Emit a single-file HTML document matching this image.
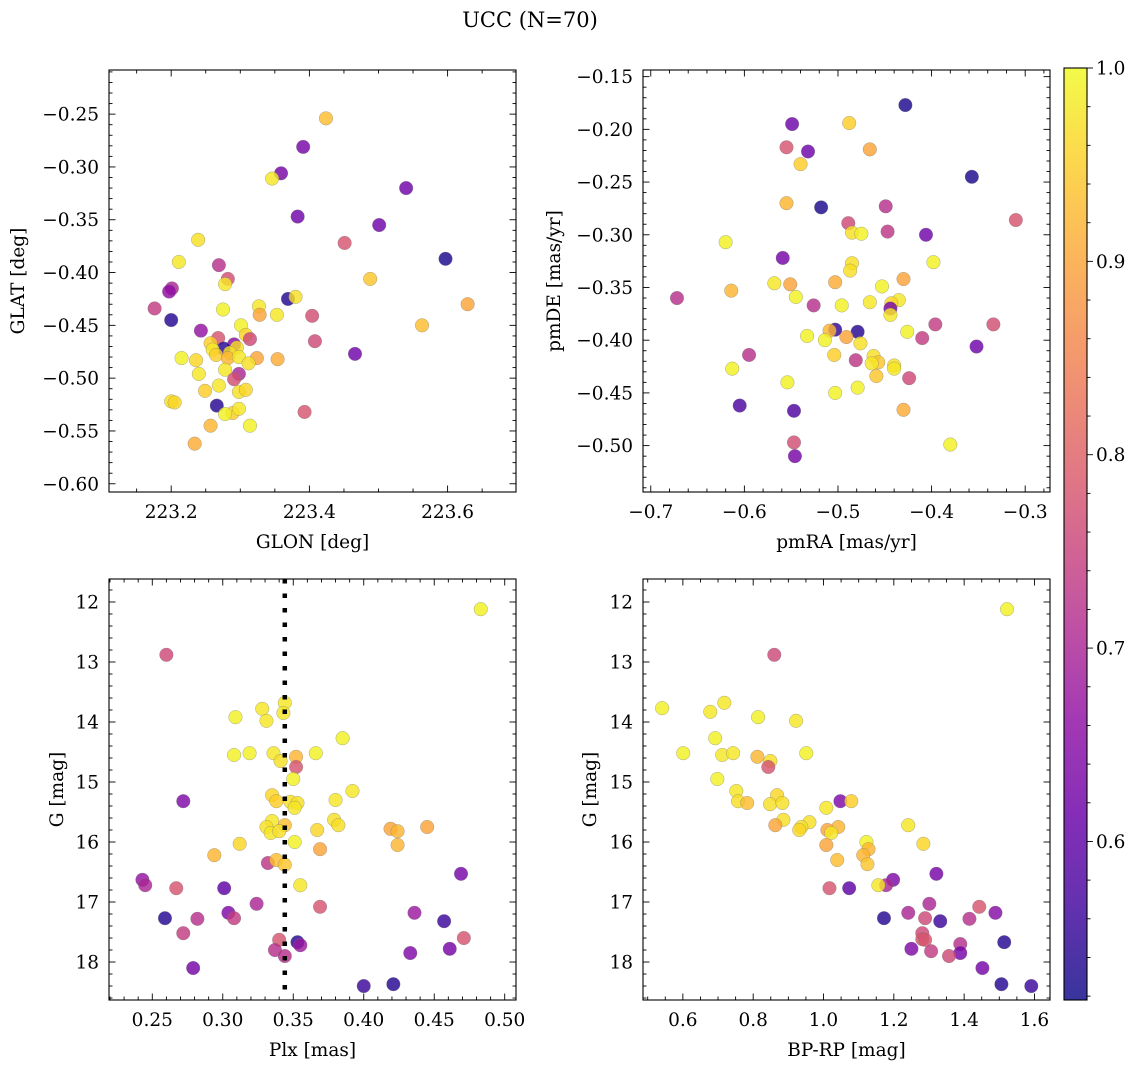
<!DOCTYPE html>
<html><head><meta charset="utf-8"><style>
body{margin:0;background:#fff;}
svg{display:block;font-family:"DejaVu Serif","Liberation Serif",serif;}
</style></head><body>
<svg id="fig" width="1136" height="1068" viewBox="0 0 1136 1068" xmlns="http://www.w3.org/2000/svg">
<text x="530" y="27" font-size="21" text-anchor="middle">UCC (N=70)</text>
</svg>
<script>
// ---- data (estimated from reference) ----
const glon = [223.424,223.391,223.359,223.346,223.540,223.383,223.501,223.451,223.239,223.211,223.269,223.597,223.282,223.278,223.488,223.201,223.197,223.629,223.369,223.380,223.176,223.275,223.327,223.328,223.353,223.404,223.200,223.563,223.243,223.301,223.308,223.314,223.268,223.408,223.257,223.291,223.276,223.260,223.295,223.466,223.215,223.236,223.265,223.285,223.282,223.298,223.324,223.312,223.354,223.278,223.298,223.291,223.240,223.269,223.249,223.298,223.308,223.200,223.205,223.266,223.289,223.278,223.298,223.393,223.257,223.314,223.234];
const glat = [-0.254,-0.281,-0.306,-0.311,-0.320,-0.347,-0.355,-0.372,-0.369,-0.390,-0.393,-0.387,-0.406,-0.411,-0.406,-0.415,-0.418,-0.430,-0.425,-0.423,-0.434,-0.435,-0.432,-0.440,-0.440,-0.441,-0.445,-0.450,-0.455,-0.450,-0.459,-0.463,-0.462,-0.465,-0.467,-0.468,-0.472,-0.473,-0.471,-0.477,-0.481,-0.483,-0.478,-0.476,-0.481,-0.480,-0.481,-0.486,-0.482,-0.492,-0.496,-0.501,-0.496,-0.507,-0.512,-0.513,-0.511,-0.522,-0.523,-0.526,-0.533,-0.534,-0.529,-0.532,-0.545,-0.545,-0.562];
const cTL = [0.93,0.63,0.63,0.98,0.62,0.62,0.62,0.78,0.97,0.98,0.72,0.53,0.77,0.98,0.94,0.70,0.66,0.90,0.54,0.97,0.74,0.99,0.98,0.90,0.98,0.77,0.54,0.93,0.67,0.99,0.96,0.76,0.78,0.76,0.95,0.65,0.54,0.98,0.97,0.62,0.99,0.96,0.95,0.97,0.92,0.98,0.90,0.97,0.91,0.98,0.70,0.77,0.98,0.98,0.95,0.97,0.96,0.97,0.96,0.54,0.95,0.99,0.98,0.78,0.92,0.99,0.91];

const pmra = [-0.428,-0.549,-0.488,-0.555,-0.532,-0.466,-0.540,-0.357,-0.555,-0.518,-0.449,-0.310,-0.489,-0.485,-0.475,-0.447,-0.406,-0.620,-0.559,-0.398,-0.485,-0.487,-0.568,-0.551,-0.503,-0.430,-0.453,-0.614,-0.672,-0.545,-0.435,-0.466,-0.443,-0.444,-0.526,-0.496,-0.444,-0.396,-0.334,-0.503,-0.509,-0.479,-0.426,-0.533,-0.514,-0.491,-0.476,-0.410,-0.352,-0.595,-0.504,-0.481,-0.462,-0.457,-0.464,-0.440,-0.440,-0.613,-0.459,-0.424,-0.554,-0.479,-0.503,-0.605,-0.547,-0.430,-0.380,-0.547,-0.546];
const pmde = [-0.177,-0.195,-0.194,-0.217,-0.221,-0.219,-0.233,-0.245,-0.270,-0.274,-0.273,-0.286,-0.289,-0.298,-0.299,-0.297,-0.300,-0.307,-0.322,-0.326,-0.327,-0.334,-0.346,-0.347,-0.345,-0.342,-0.349,-0.353,-0.360,-0.359,-0.362,-0.364,-0.365,-0.370,-0.367,-0.367,-0.376,-0.385,-0.385,-0.390,-0.391,-0.392,-0.392,-0.396,-0.400,-0.397,-0.403,-0.398,-0.406,-0.414,-0.414,-0.419,-0.415,-0.421,-0.422,-0.424,-0.427,-0.427,-0.434,-0.436,-0.440,-0.445,-0.450,-0.462,-0.467,-0.466,-0.499,-0.497,-0.510];
const cTR = [0.53,0.62,0.95,0.78,0.62,0.90,0.95,0.53,0.92,0.53,0.72,0.78,0.76,0.97,0.99,0.73,0.62,0.99,0.63,0.99,0.97,0.97,0.98,0.90,0.91,0.90,0.99,0.92,0.72,0.99,0.98,0.98,0.96,0.63,0.72,0.99,0.98,0.74,0.77,0.55,0.92,0.54,0.99,0.99,0.99,0.90,0.97,0.74,0.62,0.72,0.95,0.73,0.97,0.94,0.98,0.97,0.98,0.99,0.94,0.76,0.99,0.99,0.99,0.58,0.58,0.91,0.99,0.77,0.63];

const plx = [0.483,0.260,0.344,0.328,0.343,0.309,0.331,0.385,0.308,0.319,0.336,0.341,0.352,0.366,0.352,0.350,0.392,0.272,0.335,0.338,0.348,0.353,0.351,0.380,0.379,0.382,0.335,0.331,0.344,0.334,0.340,0.367,0.419,0.424,0.445,0.424,0.351,0.369,0.312,0.294,0.332,0.338,0.344,0.469,0.243,0.245,0.267,0.301,0.355,0.324,0.369,0.259,0.282,0.304,0.308,0.436,0.457,0.272,0.471,0.340,0.353,0.355,0.337,0.344,0.433,0.461,0.279,0.400,0.421];
const gPlx = [12.12,12.88,13.68,13.78,13.85,13.92,13.98,14.27,14.55,14.52,14.52,14.65,14.58,14.52,14.75,14.95,15.15,15.32,15.22,15.32,15.33,15.35,15.43,15.30,15.63,15.72,15.65,15.75,15.72,15.85,15.82,15.80,15.78,15.82,15.75,16.05,16.00,16.12,16.03,16.22,16.35,16.30,16.38,16.53,16.63,16.72,16.77,16.77,16.72,17.03,17.08,17.27,17.28,17.18,17.27,17.18,17.32,17.52,17.60,17.63,17.67,17.72,17.80,17.90,17.85,17.78,18.10,18.40,18.37];
const cBL = [0.99,0.76,0.98,0.98,0.98,0.99,0.98,0.99,0.99,0.99,0.98,0.97,0.92,0.99,0.78,0.99,0.98,0.64,0.96,0.95,0.97,0.97,0.98,0.98,0.97,0.97,0.98,0.97,0.93,0.98,0.97,0.96,0.90,0.92,0.90,0.92,0.99,0.90,0.96,0.92,0.73,0.93,0.94,0.63,0.67,0.70,0.78,0.60,0.98,0.70,0.78,0.54,0.72,0.64,0.74,0.68,0.56,0.74,0.78,0.78,0.54,0.68,0.72,0.72,0.64,0.63,0.63,0.56,0.54];
const plxMedian = [0.344];

const bprp = [1.522,0.860,0.541,0.718,0.678,0.814,0.922,0.692,0.601,0.712,0.743,0.951,0.812,0.849,0.843,0.698,0.752,1.048,0.868,1.079,0.757,0.783,0.848,0.883,1.008,0.886,0.863,0.960,0.937,0.931,1.042,1.011,1.022,1.241,1.008,1.122,1.128,1.284,1.113,1.039,1.125,1.321,1.198,1.178,1.156,1.017,1.073,1.301,1.443,1.172,1.241,1.289,1.332,1.415,1.489,1.281,1.281,1.289,1.514,1.389,1.250,1.306,1.389,1.357,1.452,1.506,1.591];
const gCmd = [12.12,12.88,13.77,13.68,13.83,13.92,13.98,14.27,14.52,14.55,14.52,14.52,14.58,14.65,14.75,14.95,15.15,15.32,15.22,15.32,15.32,15.35,15.37,15.35,15.43,15.63,15.72,15.67,15.75,15.80,15.75,15.80,15.85,15.72,16.05,16.00,16.12,16.03,16.22,16.30,16.37,16.53,16.63,16.72,16.72,16.77,16.77,17.03,17.08,17.27,17.18,17.27,17.32,17.28,17.18,17.52,17.62,17.63,17.67,17.70,17.78,17.82,17.85,17.90,18.10,18.37,18.40];
const cBR = [0.99,0.76,0.99,0.98,0.98,0.99,0.98,0.99,0.99,0.98,0.98,0.99,0.92,0.97,0.78,0.99,0.98,0.64,0.96,0.95,0.97,0.93,0.97,0.97,0.98,0.97,0.90,0.97,0.97,0.96,0.92,0.90,0.98,0.98,0.90,0.99,0.92,0.96,0.92,0.93,0.94,0.63,0.64,0.70,0.98,0.78,0.60,0.70,0.78,0.54,0.70,0.76,0.56,0.72,0.65,0.76,0.78,0.78,0.54,0.72,0.64,0.74,0.63,0.76,0.63,0.54,0.56];

const cbTicks = [0.6,0.7,0.8,0.9,1.0];
const cRange = [0.518,1.0];

// ---- rendering ----
const FS=18.5;
const NS='http://www.w3.org/2000/svg';
const svg=document.getElementById('fig');
function mk(tag,attrs,parent){const e=document.createElementNS(NS,tag);for(const k in attrs)e.setAttribute(k,attrs[k]);(parent||svg).appendChild(e);return e;}
const stops=[[13,8,135],[65,4,157],[106,0,168],[143,13,164],[177,42,144],[204,71,120],[225,100,98],[242,132,75],[252,166,54],[252,206,37],[240,249,33]];
function plasma(t){t=Math.max(0,Math.min(1,t));const f=t*10,i=Math.min(9,Math.floor(f)),r=f-i;const a=stops[i],b=stops[i+1];return 'rgb('+a.map((v,k)=>Math.round(v+(b[k]-v)*r)).join(',')+')';}
function cval(c){return plasma((c-cRange[0])/(cRange[1]-cRange[0]));}
function fmt(v,d){const s=Math.abs(v).toFixed(d);return (v<-1e-9?'\u2212':'')+s;}

function panel(o){
  const g=mk('g',{});
  
  
  const X=v=>o.x0+(v-o.xd[0])/(o.xd[1]-o.xd[0])*(o.x1-o.x0);
  const Y=o.yinv?(v=>o.y0+(v-o.yd[0])/(o.yd[1]-o.yd[0])*(o.y1-o.y0)):(v=>o.y1-(v-o.yd[0])/(o.yd[1]-o.yd[0])*(o.y1-o.y0));
  const pg=mk('g',{},g);
  
  
  for(let i=0;i<o.xs.length;i++){
    const c=mk('circle',{cx:X(o.xs[i]),cy:Y(o.ys[i]),r:6.8,fill:cval(o.cs[i]),'fill-opacity':0.82,stroke:'#777','stroke-opacity':0.6,'stroke-width':0.5},pg);
    
    
  }
  if(o.vline){
    const l=mk('line',{x1:X(o.vline),x2:X(o.vline),y1:o.y0,y2:o.y1,stroke:'#000','stroke-width':4.5,'stroke-dasharray':'4.5 10'},g);
    
    
  }
  const fr=mk('rect',{x:o.x0,y:o.y0,width:o.x1-o.x0,height:o.y1-o.y0,fill:'none',stroke:'#000','stroke-width':1.1},g);
  
  
  const tg=mk('g',{stroke:'#000','stroke-width':0.9},g);
  for(let k=Math.ceil(o.xd[0]/o.xmin-1e-6);k*o.xmin<=o.xd[1]+1e-9;k++){
    const v=k*o.xmin,px=X(v);
    const maj=Math.abs(v/o.xmaj-Math.round(v/o.xmaj))<1e-4;
    const L=maj?6.5:3.5;
    mk('line',{x1:px,x2:px,y1:o.y1,y2:o.y1-L},tg);mk('line',{x1:px,x2:px,y1:o.y0,y2:o.y0+L},tg);
    if(maj){const t=mk('text',{x:px,y:o.y1+26,'font-size':FS,'text-anchor':'middle'},g);t.textContent=fmt(v,o.xdec);
      
      }
  }
  for(let k=Math.ceil(o.yd[0]/o.ymin-1e-6);k*o.ymin<=o.yd[1]+1e-9;k++){
    const v=k*o.ymin,py=Y(v);
    const maj=Math.abs(v/o.ymaj-Math.round(v/o.ymaj))<1e-4;
    const L=maj?6.5:3.5;
    mk('line',{x1:o.x0,x2:o.x0+L,y1:py,y2:py},tg);mk('line',{x1:o.x1,x2:o.x1-L,y1:py,y2:py},tg);
    if(maj){const t=mk('text',{x:o.x0-10,y:py+6.5,'font-size':FS,'text-anchor':'end'},g);t.textContent=fmt(v,o.ydec);
      
      }
  }
  const xl=mk('text',{x:(o.x0+o.x1)/2,y:o.y1+56,'font-size':FS,'text-anchor':'middle'},g);xl.textContent=o.xlabel;
  
  
  const yx=o.ylx,yy=(o.y0+o.y1)/2;
  const yl=mk('text',{x:yx,y:yy,'font-size':FS,'text-anchor':'middle',transform:'rotate(-90 '+yx+' '+yy+')'},g);yl.textContent=o.ylabel;
  
  
}

panel({name:'glon-glat-panel',x0:109,x1:516,y0:70,y1:492,xd:[223.110,223.699],yd:[-0.6078,-0.2082],xs:glon,ys:glat,cs:cTL,xmaj:0.2,xmin:0.05,ymaj:0.05,ymin:0.01,xdec:1,ydec:2,xlabel:'GLON [deg]',ylabel:'GLAT [deg]',ylx:24});
panel({name:'pm-panel',x0:643,x1:1050,y0:70,y1:492,xd:[-0.7083,-0.2735],yd:[-0.5440,-0.1437],xs:pmra,ys:pmde,cs:cTR,xmaj:0.1,xmin:0.02,ymaj:0.05,ymin:0.01,xdec:1,ydec:2,xlabel:'pmRA [mas/yr]',ylabel:'pmDE [mas/yr]',ylx:560});
panel({name:'plx-g-panel',x0:109,x1:516,y0:579,y1:1000,yinv:true,xd:[0.2193,0.5080],yd:[11.617,18.633],xs:plx,ys:gPlx,cs:cBL,vline:plxMedian[0],xmaj:0.05,xmin:0.01,ymaj:1,ymin:0.2,xdec:2,ydec:0,xlabel:'Plx [mas]',ylabel:'G [mag]',ylx:63});
panel({name:'cmd-panel',x0:643,x1:1050,y0:579,y1:1000,yinv:true,xd:[0.4866,1.6442],yd:[11.617,18.633],xs:bprp,ys:gCmd,cs:cBR,xmaj:0.2,xmin:0.05,ymaj:1,ymin:0.2,xdec:1,ydec:0,xlabel:'BP-RP [mag]',ylabel:'G [mag]',ylx:596});

const cb={x0:1064,x1:1087,y0:68,y1:1000};
const defs=mk('defs',{});
const grad=mk('linearGradient',{id:'cbg',x1:0,y1:1,x2:0,y2:0},defs);
for(let i=0;i<=20;i++){mk('stop',{offset:i/20,'stop-color':plasma(i/20),'stop-opacity':0.82},grad);}
const cbg=mk('g',{});


mk('rect',{x:cb.x0,y:cb.y0,width:cb.x1-cb.x0,height:cb.y1-cb.y0,fill:'url(#cbg)',stroke:'#000','stroke-width':1.1},cbg);
const CY=v=>cb.y1-(v-cRange[0])/(cRange[1]-cRange[0])*(cb.y1-cb.y0);
for(let k=26;k<=50;k++){const v=k*0.02;if(v<cRange[0]||v>cRange[1]+1e-9)continue;const py=CY(v);
  const maj=Math.abs(v*10-Math.round(v*10))<1e-4;
  mk('line',{x1:cb.x1,x2:cb.x1+(maj?6:3.5),y1:py,y2:py,stroke:'#000','stroke-width':0.9},cbg);}
cbTicks.forEach(v=>{const t=mk('text',{x:cb.x1+9,y:CY(v)+6.5,'font-size':FS},cbg);t.textContent=v.toFixed(1);
  
  });
</script>
</body></html>
